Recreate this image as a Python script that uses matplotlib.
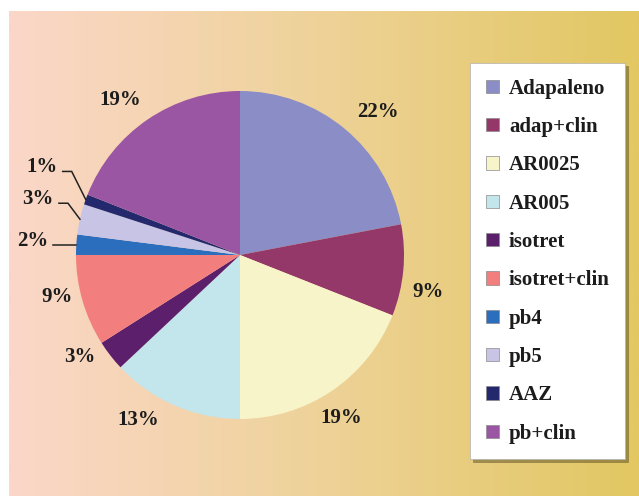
import numpy as np
import matplotlib
matplotlib.use("Agg")
import matplotlib.pyplot as plt
from matplotlib.colors import LinearSegmentedColormap
from matplotlib.patches import Patch

plt.rcParams['font.family'] = ['Liberation Serif', 'DejaVu Serif']

# treatment groups and their share of patients (%)
labels = ["Adapaleno", "adap+clin", "AR0025", "AR005", "isotret",
          "isotret+clin", "pb4", "pb5", "AAZ", "pb+clin"]
shares = [22, 9, 19, 13, 3, 9, 2, 3, 1, 19]
colors = ["#8a8dc6", "#933868", "#f8f4c9", "#c3e5ec", "#5c1f6c",
          "#f27f7e", "#2a6ebd", "#c7c4e6", "#23296c", "#9a56a2"]

# slices too thin to label inline get a leader line
small = {"pb4", "pb5", "AAZ"}

W, H = 639, 496
fig = plt.figure(figsize=(W / 100, H / 100), dpi=100)

# warm background wash, pink on the left fading to gold
bg = fig.add_axes([0, 0, 1, 1])
bg.set_xlim(0, W)
bg.set_ylim(H, 0)
bg.axis("off")
wash = LinearSegmentedColormap.from_list(
    "wash", [(0, "#fbd7c9"), (0.45, "#efd39d"), (1, "#e2c762")])
bg.imshow(np.linspace(0, 1, 256)[None, :], cmap=wash, aspect="auto",
          extent=[9, W, H, 11], interpolation="bilinear")

R = 164  # pie radius in pixels
cx, cy = 240, 255
ax = fig.add_axes([(cx - R) / W, (H - cy - R) / H, 2 * R / W, 2 * R / H])

wedges, _ = ax.pie(shares, colors=colors, startangle=90, counterclock=False,
                   radius=1, wedgeprops=dict(linewidth=0))
ax.set_xlim(-1, 1)
ax.set_ylim(-1, 1)
ax.axis("off")

LABEL_SIZE = 15
# small pixel nudges for the inline labels
nudge = {"Adapaleno": (14, -7), "adap+clin": (-6, -19), "AR0025": (-8, -2),
         "AR005": (-24, 14), "isotret": (-6, 18), "isotret+clin": (4, 12),
         "pb+clin": (-10, -6)}
# leader lines: elbow offset from the rim (px) and horizontal tail length
leader = {"AAZ": ((-14, 28), 9), "pb5": ((-12, 16), 9), "pb4": ((-3, 0), 20)}

px = 1 / R
for w, lab, val in zip(wedges, labels, shares):
    mid = np.deg2rad((w.theta1 + w.theta2) / 2)
    ex, ey = np.cos(mid), np.sin(mid)
    txt = f"{val}%"
    if lab in small:
        (dx, dy), tail = leader[lab]
        kx, ky = ex + dx * px, ey + dy * px
        tx = kx - tail * px
        ax.plot([ex, kx, tx], [ey, ky, ky], color="#222222", lw=1.1,
                clip_on=False, solid_joinstyle="miter")
        ax.text(tx - 5 * px, ky + 4 * px, txt, ha="right", va="center",
                fontsize=LABEL_SIZE, fontweight="bold", color="#1c1c1c")
    else:
        ox, oy = nudge.get(lab, (0, 0))
        ax.annotate(txt, (1.19 * ex, 1.19 * ey), xytext=(ox, oy),
                    textcoords="offset pixels", ha="center", va="center",
                    fontsize=LABEL_SIZE, fontweight="bold", color="#1c1c1c",
                    annotation_clip=False)

handles = [Patch(facecolor=c, edgecolor="#8a8a8a", linewidth=0.5, label=l)
           for c, l in zip(colors, labels)]
leg = fig.legend(handles=handles, loc="upper left",
                 bbox_to_anchor=(470 / W, 1 - 63 / H), borderaxespad=0,
                 frameon=True, fancybox=False,
                 shadow={"color": "#5a4e22", "alpha": 0.5},
                 prop={"size": 15, "weight": "bold"},
                 handlelength=0.62, handleheight=0.62, handletextpad=0.5,
                 labelspacing=0.88, borderpad=0.75)
leg.get_frame().set_facecolor("white")
leg.get_frame().set_edgecolor("#b0b0b0")
leg.get_frame().set_linewidth(0.5)
for t in leg.get_texts():
    t.set_color("#1c1c1c")

fig.savefig("out.png", dpi=100)
